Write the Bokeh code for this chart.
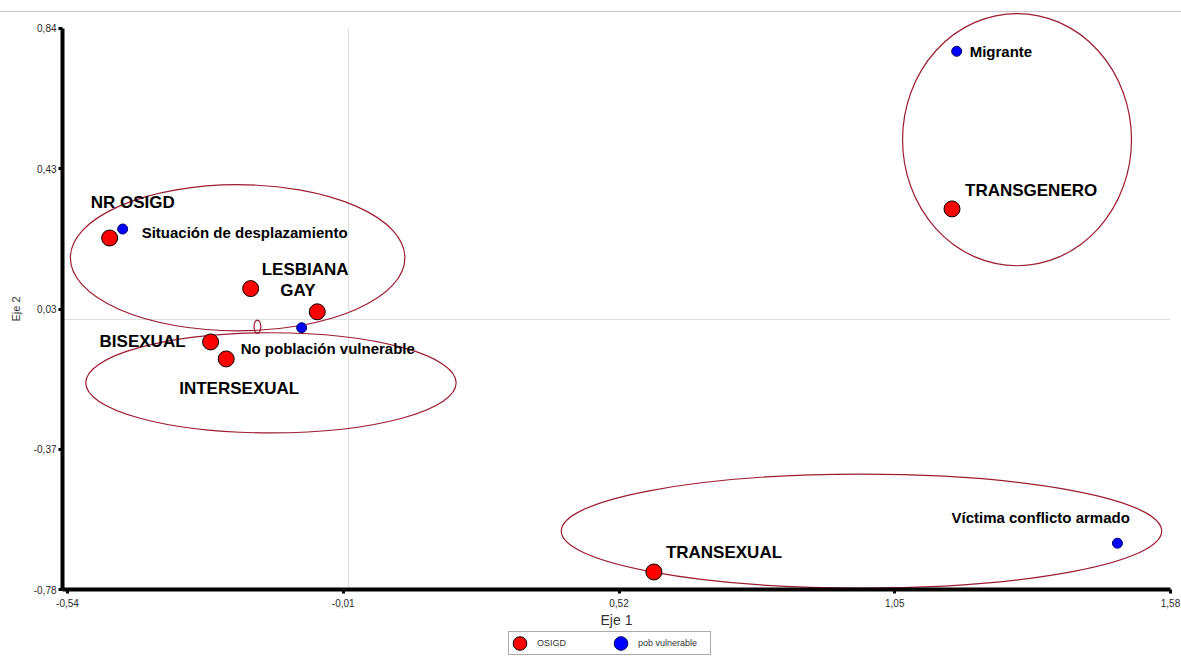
from bokeh.plotting import figure
from bokeh.models import (Range1d, FixedTicker, Legend, LegendItem,
                          ColumnDataSource, Div)
from bokeh.layouts import column
from bokeh.embed import file_html
from bokeh.resources import INLINE
from bokeh.core.properties import value

# ---- data -------------------------------------------------------------
osigd_labels = ["NR OSIGD", "LESBIANA", "GAY", "BISEXUAL", "INTERSEXUAL",
                "TRANSGENERO", "TRANSEXUAL"]
osigd_x = [-0.459, -0.188, -0.060, -0.265, -0.235, 1.160, 0.587]
osigd_y = [0.235, 0.089, 0.022, -0.065, -0.114, 0.319, -0.729]

vuln_labels = ["Situación de desplazamiento", "No población vulnerable",
               "Migrante", "Víctima conflicto armado"]
vuln_x = [-0.434, -0.090, 1.169, 1.478]
vuln_y = [0.261, -0.024, 0.774, -0.646]

# ellipses (centre, width, height in axis units)
ell_x = [-0.213, -0.149, -0.175, 1.285, 0.986]
ell_y = [0.178, -0.183, -0.021, 0.519, -0.611]
ell_w = [0.643, 0.712, 0.013, 0.440, 1.154]
ell_h = [0.422, 0.289, 0.038, 0.728, 0.329]

x_ticks = [-0.54, -0.01, 0.52, 1.05, 1.58]
x_tick_labels = ["-0,54", "-0,01", "0,52", "1,05", "1,58"]
y_ticks = [-0.78, -0.375, 0.03, 0.435, 0.84]
y_tick_labels = ["-0,78", "-0,37", "0,03", "0,43", "0,84"]

# axes cross point
AXIS_X0 = -0.5496
AXIS_Y0 = y_ticks[0]

# ---- label placement (screen pixel offsets) ----------------------------
osigd_dx = [-19, 11, -37, -111, -47, 13, 12]
osigd_dy = [-36, -19, -21, 0, 30, -18, -19]
vuln_dx = [19, -61, 13, -166]
vuln_dy = [3, 21, 0, -26]

FONT = "Liberation Sans"

# frame spans the whole figure; both axes are pinned inside it
p = figure(width=1181, height=644,
           x_range=Range1d(-0.6688, 1.6011), y_range=Range1d(-0.973, 0.886),
           output_backend="svg", toolbar_location=None,
           min_border_left=0, min_border_right=0,
           min_border_top=0, min_border_bottom=0)
p.grid.visible = False
p.outline_line_color = None
p.background_fill_color = "white"
p.border_fill_color = "white"

# axes
xa = p.xaxis[0]
ya = p.yaxis[0]
xa.fixed_location = AXIS_Y0
ya.fixed_location = AXIS_X0
xa.bounds = (AXIS_X0, x_ticks[-1])
ya.bounds = (AXIS_Y0, y_ticks[-1])
xa.ticker = FixedTicker(ticks=x_ticks)
xa.major_label_overrides = dict(zip(x_ticks, x_tick_labels))
ya.ticker = FixedTicker(ticks=y_ticks)
ya.major_label_overrides = dict(zip(y_ticks, y_tick_labels))
for ax in (xa, ya):
    ax.axis_line_width = 4
    ax.axis_line_color = "black"
    ax.major_tick_line_color = "black"
    ax.major_tick_line_width = 3
    ax.major_tick_out = 4
    ax.major_tick_in = 0
    ax.minor_tick_line_color = None
    ax.major_label_text_font = FONT
    ax.major_label_text_font_size = "10px"
    ax.major_label_text_color = "#2a2a2a"
    ax.axis_label_text_font = FONT
    ax.axis_label_text_font_style = "normal"
    ax.axis_label_text_color = "#333333"
xa.axis_label = "Eje 1"
xa.axis_label_text_font_size = "14px"
xa.major_label_standoff = 5
xa.axis_label_standoff = 2
ya.axis_label = "Eje 2"
ya.axis_label_text_font_size = "11px"
ya.major_label_standoff = 2
ya.axis_label_standoff = 9

# zero reference lines
p.segment(x0=[0], y0=[AXIS_Y0], x1=[0], y1=[y_ticks[-1]],
          line_color="#dddddd", line_width=1)
p.segment(x0=[AXIS_X0], y0=[0], x1=[x_ticks[-1]], y1=[0],
          line_color="#dddddd", line_width=1)

# ellipses
p.ellipse(x=ell_x, y=ell_y, width=ell_w, height=ell_h,
          fill_color=None, line_color="#9c1b32", line_width=1.2)

# points
src_o = ColumnDataSource(dict(x=osigd_x, y=osigd_y, t=osigd_labels,
                              dx=osigd_dx, dy=osigd_dy))
src_v = ColumnDataSource(dict(x=vuln_x, y=vuln_y, t=vuln_labels,
                              dx=vuln_dx, dy=vuln_dy))

r_o = p.ellipse(x="x", y="y", width=16, height=16, width_units="screen",
                height_units="screen", source=src_o,
                fill_color="#ff0000", line_color="black", line_width=1)
r_v = p.ellipse(x="x", y="y", width=10, height=10, width_units="screen",
                height_units="screen", source=src_v,
                fill_color="#0000ff", line_color="#000060", line_width=1)

p.text(x="x", y="y", text="t", source=src_o, x_offset="dx", y_offset="dy",
       text_font=value(FONT), text_font_style="bold", text_font_size="17px",
       text_baseline="middle", text_align="left", text_color="black")
p.text(x="x", y="y", text="t", source=src_v, x_offset="dx", y_offset="dy",
       text_font=value(FONT), text_font_style="bold", text_font_size="15px",
       text_baseline="middle", text_align="left", text_color="black")

legend = Legend(items=[LegendItem(label="OSIGD", renderers=[r_o]),
                       LegendItem(label="pob vulnerable", renderers=[r_v])],
                location=(508, 1), orientation="horizontal",
                glyph_width=17, glyph_height=18, label_height=18,
                label_standoff=9, label_width=70, spacing=5, padding=2,
                margin=0, label_text_font=FONT, label_text_font_size="9px",
                label_text_color="#333333",
                border_line_color="#555555", border_line_width=1,
                background_fill_color="white", background_fill_alpha=1)
p.add_layout(legend, "center")

top = Div(text="", width=1181, height=12, margin=(0, 0, 0, 0),
          styles={"border-bottom": "1px solid #c6c6c6"})
layout = column(top, p, spacing=0)

open("out.html", "w").write(file_html(layout, INLINE))
